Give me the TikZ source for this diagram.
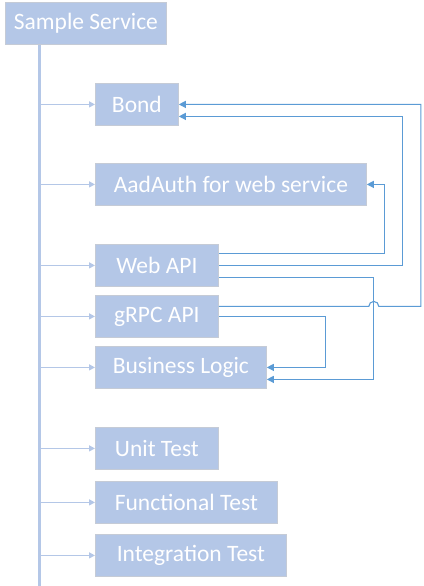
\documentclass[tikz,border=0pt]{standalone}
\usepackage{fontspec}
\setmainfont{Carlito}
\usepackage{xcolor}
\usepackage{tikz}
\usetikzlibrary{arrows.meta, positioning, calc}

\definecolor{boxblue}{HTML}{B4C7E7}
\definecolor{boxedge}{HTML}{C5CBD6}
\definecolor{linkblue}{HTML}{5B9BD5}

\begin{document}
\begin{tikzpicture}[
    x=1pt, y=-1pt,
    block/.style={rectangle, draw=boxedge, line width=0.8pt, fill=boxblue, text=white, anchor=north west, minimum height=42pt, inner sep=0pt, font=\fontsize{23.5}{26}\selectfont},
    trunkline/.style={boxblue, line width=3pt},
    branch/.style={-{Triangle[length=6pt, width=6pt]}, boxblue, line width=1.4pt},
    link/.style={-{Triangle[length=7pt, width=7pt]}, linkblue, line width=1.1pt},
]

\useasboundingbox (0,0) rectangle (423,586);

\node[block, minimum width=161pt] (svc)   at (5,2)   {Sample Service};
\node[block, minimum width=83pt]  (bond)  at (95,83)  {Bond};
\node[block, minimum width=271pt] (aad)   at (95,163) {AadAuth for web service};
\node[block, minimum width=123pt] (web)   at (95,244) {Web API};
\node[block, minimum width=123pt] (grpc)  at (95,295) {gRPC API};
\node[block, minimum width=171pt] (logic) at (95,346) {Business Logic};
\node[block, minimum width=123pt] (unit)  at (95,427) {Unit Test};
\node[block, minimum width=182pt] (func)  at (95,481) {Functional Test};
\node[block, minimum width=191pt] (integ) at (95,534) {Integration Test};

\coordinate (trunk) at ([xshift=34pt]svc.south west);
\coordinate (foot)  at (39,586);
\coordinate (drop)  at ([xshift=107pt, yshift=-12pt]logic.east);
\coordinate (rise)  at ([xshift=242pt]bond.east);

\draw[trunkline] (trunk) -- (foot);
\foreach \n in {bond, aad, web, grpc, logic, unit, func, integ}
    \draw[branch] (trunk |- \n.west) -- (\n.west);

\draw[link] ([yshift=12pt]web.east) -| ([xshift=18pt]aad.east) -- (aad.east);
\draw[link] (web.east) -| ([xshift=224pt, yshift=-12pt]bond.east) -- ([yshift=-12pt]bond.east);
\draw[link] ([yshift=-12pt]web.east) -| (drop) -- ([yshift=-12pt]logic.east);
\draw[link] ([yshift=10pt]grpc.east) -- ($([yshift=10pt]grpc.east -| drop)+(-5,0)$)
    arc[start angle=180, end angle=0, radius=5pt] -- ([yshift=10pt]grpc.east -| rise) |- (bond.east);
\draw[link] (grpc.east) -| ([xshift=59pt]logic.east) -- (logic.east);

\end{tikzpicture}
\end{document}
